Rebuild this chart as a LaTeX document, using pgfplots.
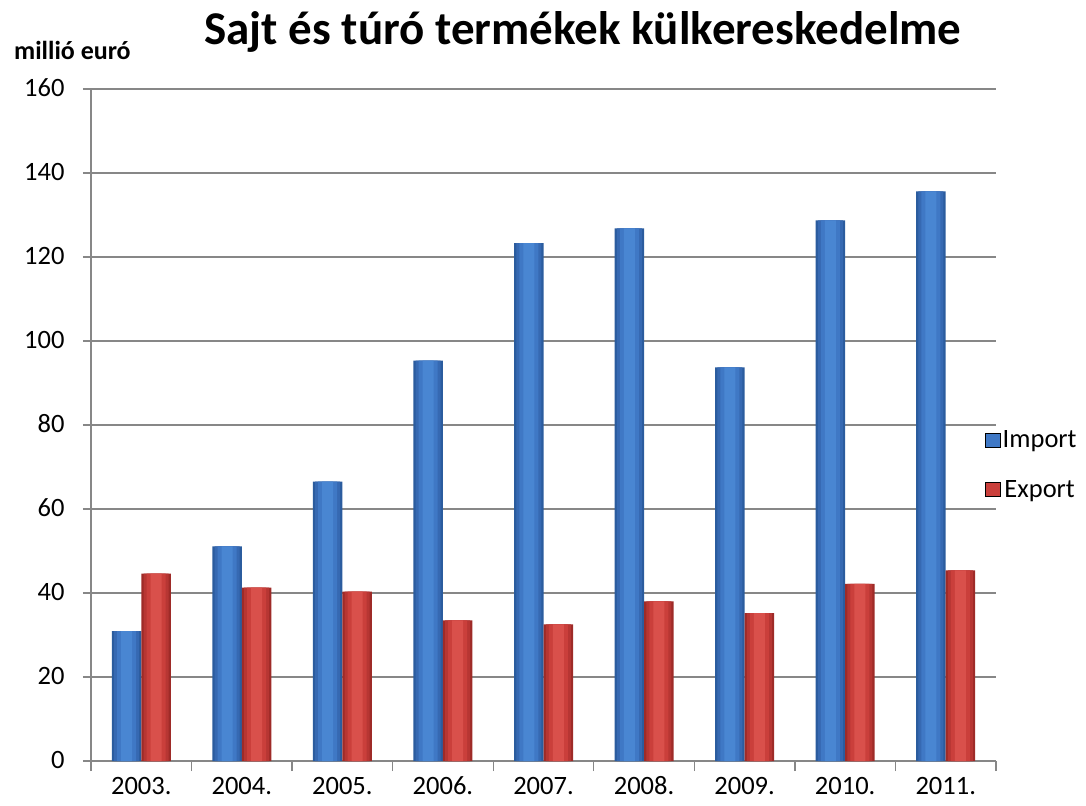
\documentclass[border=0pt]{standalone}
\usepackage{fontspec}
\setmainfont{Carlito}
\usepackage{pgfplots}
\pgfplotsset{compat=1.18}

\definecolor{impA}{HTML}{2B5C9E}
\definecolor{impB}{HTML}{3669B2}
\definecolor{impC}{HTML}{3F78C5}
\definecolor{impD}{HTML}{4986D2}
\definecolor{expA}{HTML}{9E2B28}
\definecolor{expB}{HTML}{B73633}
\definecolor{expC}{HTML}{CA3F3B}
\definecolor{expD}{HTML}{D9504B}
\definecolor{gridgray}{HTML}{878787}

\pgfplotstableread{
x imp exp
0 30.9 44.6
1 51.1 41.3
2 66.5 40.3
3 95.3 33.5
4 123.3 32.5
5 126.8 38.0
6 93.7 35.2
7 128.7 42.2
8 135.6 45.4
}\trade

\begin{document}
\begin{tikzpicture}
\useasboundingbox (-91bp,-45bp) rectangle (995bp,761bp);
\begin{axis}[
    scale only axis,
    width=905bp, height=672bp,
    ybar=0pt, bar width=29.5bp,
    xmin=-0.5, xmax=8.5,
    ymin=0, ymax=160,
    xtick={0,...,8},
    xticklabels={2003.,2004.,2005.,2006.,2007.,2008.,2009.,2010.,2011.},
    minor xtick={-0.5,0.5,...,8.5},
    ytick={0,20,...,160},
    axis x line*=bottom, axis y line*=left,
    axis line style={draw=gridgray, line width=1.3bp, -},
    ymajorgrids, major grid style={draw=gridgray, line width=1.3bp},
    major x tick style={draw=none},
    minor x tick style={draw=gridgray, line width=1.3bp},
    major y tick style={draw=gridgray, line width=1.3bp},
    tick align=outside,
    major tick length=8bp, minor tick length=10bp,
    /pgf/number format/assume math mode=true,
    tick label style={font=\fontsize{26.5bp}{30bp}\selectfont},
    yticklabel style={xshift=-15bp, yshift=-1.5bp},
    typeset ticklabels with strut,
    xticklabel style={yshift=-0.5bp},
    legend style={at={(0.988,0.441)}, anchor=west, draw=none, fill=none,
        font=\fontsize{26.5bp}{30bp}\selectfont, row sep=27bp,
        inner sep=0pt},
    legend image code/.code={
        \fill[#1] (0bp,-7bp) rectangle (15bp,7bp);
    },
]
% import bars: layered from dark edge to bright centre
\addplot[forget plot, draw=none, fill=impA, bar shift=-14.75bp, bar width=29.5bp] table[x=x, y=imp] {\trade};
\addplot[forget plot, draw=none, fill=impB, bar shift=-14.75bp, bar width=25bp] table[x=x, y=imp] {\trade};
\addplot[forget plot, draw=none, fill=impC, bar shift=-14.75bp, bar width=19bp] table[x=x, y=imp] {\trade};
\addplot[forget plot, draw=none, fill=impD, bar shift=-14.75bp, bar width=11bp] table[x=x, y=imp] {\trade};
% export bars
\addplot[forget plot, draw=none, fill=expA, bar shift=14.75bp, bar width=29.5bp] table[x=x, y=exp] {\trade};
\addplot[forget plot, draw=none, fill=expB, bar shift=14.75bp, bar width=25bp] table[x=x, y=exp] {\trade};
\addplot[forget plot, draw=none, fill=expC, bar shift=14.75bp, bar width=19bp] table[x=x, y=exp] {\trade};
\addplot[forget plot, draw=none, fill=expD, bar shift=14.75bp, bar width=11bp] table[x=x, y=exp] {\trade};
\addlegendimage{fill=impC}
\addlegendentry{Import}
\addlegendimage{fill=expC}
\addlegendentry{Export}
\end{axis}
\node[anchor=base, font=\fontsize{47bp}{54bp}\selectfont\bfseries] at (492bp,716bp) {Sajt és túró termékek külkereskedelme};
\node[anchor=base west, inner sep=0pt, font=\fontsize{26bp}{30bp}\selectfont\bfseries] at (-77bp,701bp) {millió euró};
\end{tikzpicture}
\end{document}
